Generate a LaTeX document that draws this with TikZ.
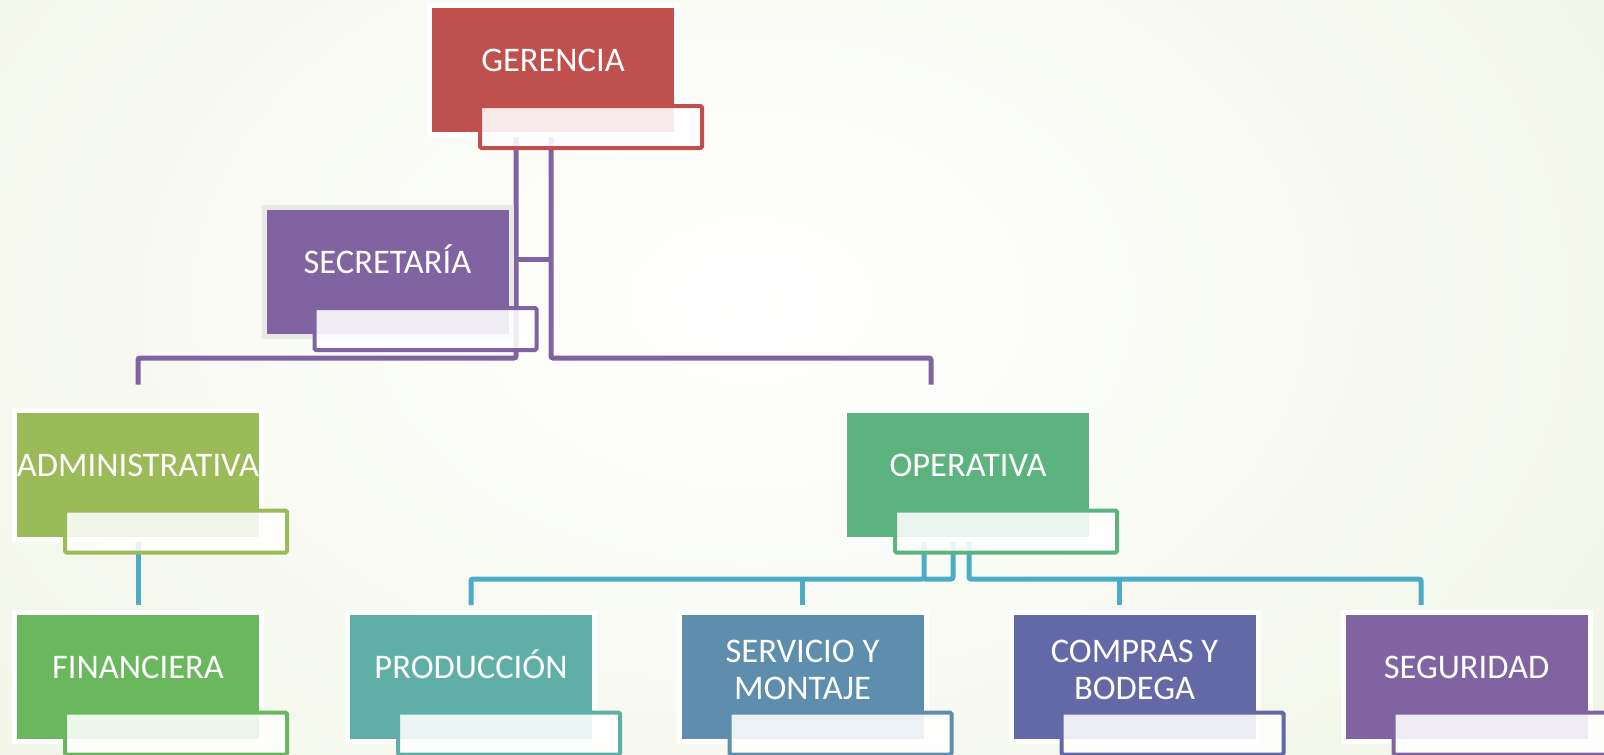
\documentclass[tikz,border=0pt]{standalone}
\usepackage{fontspec}
\setmainfont{Carlito}
\usetikzlibrary{positioning}
\definecolor{gerenciaRed}{HTML}{C0504D}
\definecolor{secPurple}{HTML}{8064A2}
\definecolor{adminGreen}{HTML}{9BBB59}
\definecolor{opeGreen}{HTML}{5DB37E}
\definecolor{finGreen}{HTML}{6AB75D}
\definecolor{proTeal}{HTML}{5FAFA7}
\definecolor{serBlue}{HTML}{5F8DAE}
\definecolor{comIndigo}{HTML}{6368A6}
\definecolor{segPurple}{HTML}{8064A2}
\definecolor{lowAqua}{HTML}{4BACC6}
\definecolor{bgTint}{HTML}{E9EFD8}
\pgfdeclarelayer{back}
\pgfdeclarelayer{lines}
\pgfsetlayers{back,lines,main}
\newcommand{\lowpad}{\rule[-13pt]{0pt}{13pt}}

\begin{document}
\begin{tikzpicture}[x=1pt, y=-1pt]

        % Setup the styles for the boxes and the links
        \tikzset{box/.style={rectangle,
                             minimum width=247pt,
                             minimum height=129pt,
                             inner sep=0pt,
                             outer sep=0pt,
                             draw=white,
                             line width=5pt,
                             text=white,
                             align=center,
                             text height=21.5pt,
                             text depth=18pt,
                             font=\fontsize{34.5}{37}\selectfont},
                 two lines/.style={text height={}, text depth={}},
                 tab/.style={rectangle,
                             anchor=north west,
                             minimum width=222pt,
                             minimum height=42pt,
                             inner sep=0pt,
                             outer sep=0pt,
                             line width=4pt,
                             rounded corners=1.5pt,
                             fill=white,
                             fill opacity=0.88,
                             draw opacity=1},
                 toplink/.style={line width=5pt, draw=secPurple, rounded corners=2pt},
                 lowlink/.style={line width=5pt, draw=lowAqua, rounded corners=2pt}}

        \useasboundingbox (0,0) rectangle (1604,755);
        \begin{pgfonlayer}{back}
            \shade[inner color=white, outer color=bgTint] (-1000,-900) rectangle (2500,1500);
        \end{pgfonlayer}

        % Draw the boxes
        \node[box, fill=gerenciaRed]                    at (553, 70)     (ger) {GERENCIA};
        \node[box, fill=secPurple, draw=gray!18]        at (387.5, 272)  (sec) {SECRETARÍA};
        \node[box, fill=adminGreen]                     at (138, 474.5)  (adm) {ADMINISTRATIVA};
        \node[box, fill=opeGreen]                       at (968, 474.5)  (ope) {OPERATIVA};
        \node[box, fill=finGreen]                       at (138, 676.5)  (fin) {FINANCIERA};
        \node[box, fill=proTeal]                        at (471, 676.5)  (pro) {PRODUCCIÓN};
        \node[box, two lines, fill=serBlue]             at (802.5, 676.5) (ser) {SERVICIO Y\\MONTAJE\lowpad};
        \node[box, two lines, fill=comIndigo]           at (1134.5, 676.5) (com) {COMPRAS Y\\BODEGA\lowpad};
        \node[box, fill=segPurple]                      at (1466.5, 676.5) (seg) {SEGURIDAD};

        % The light tabs below every box
        \node[tab, draw=gerenciaRed] at ([xshift=50.5pt, yshift=28.5pt]ger.south west) (gerT) {};
        \node[tab, draw=secPurple]   at ([xshift=50.5pt, yshift=28.5pt]sec.south west) (secT) {};
        \node[tab, draw=adminGreen]  at ([xshift=50.5pt, yshift=28.5pt]adm.south west) (admT) {};
        \node[tab, draw=opeGreen]    at ([xshift=50.5pt, yshift=28.5pt]ope.south west) (opeT) {};
        \node[tab, draw=finGreen]    at ([xshift=50.5pt, yshift=28.5pt]fin.south west) (finT) {};
        \node[tab, draw=proTeal]     at ([xshift=50.5pt, yshift=28.5pt]pro.south west) (proT) {};
        \node[tab, draw=serBlue]     at ([xshift=50.5pt, yshift=28.5pt]ser.south west) (serT) {};
        \node[tab, draw=comIndigo]   at ([xshift=50.5pt, yshift=28.5pt]com.south west) (comT) {};
        \node[tab, draw=segPurple]   at ([xshift=50.5pt, yshift=28.5pt]seg.south west) (segT) {};

        % Connect the boxes
        \coordinate (topbus) at (0, 358);
        \coordinate (lowbus) at (0, 579);
        \coordinate (gerL) at ([xshift=-37pt]ger.south);
        \coordinate (gerR) at ([xshift=-2pt]ger.south);
        \coordinate (secJ) at ([yshift=13pt]sec.east);
        \coordinate (opeA) at ([xshift=-44pt]ope.south);
        \coordinate (opeB) at ([xshift=-15pt]ope.south);
        \coordinate (opeC) at ([xshift=1pt]ope.south);
        \coordinate (comS) at ([xshift=-15.5pt, yshift=7pt]com.north);
        \begin{pgfonlayer}{lines}
            \draw[toplink] (gerL) -- (gerL |- topbus) -| ([yshift=25.5pt]adm.north);
            \draw[toplink] (gerR) -- (gerR |- topbus) -| ([xshift=-37pt, yshift=25.5pt]ope.north);
            \draw[toplink] (secJ) -- (secJ -| gerR);
            \draw[lowlink] (adm.south) -- ([yshift=7pt]fin.north);
            \draw[lowlink] (opeA) -- (opeA |- lowbus) -| ([yshift=7pt]pro.north);
            \draw[lowlink] (opeB) -- (opeB |- lowbus) -- (opeA |- lowbus);
            \draw[lowlink] ([yshift=7pt]ser.north) -- (ser.north |- lowbus);
            \draw[lowlink] (opeC) -- (opeC |- lowbus) -| ([xshift=-45.5pt, yshift=7pt]seg.north);
            \draw[lowlink] (comS) -- (comS |- lowbus);
        \end{pgfonlayer}
    \end{tikzpicture}
\end{document}
